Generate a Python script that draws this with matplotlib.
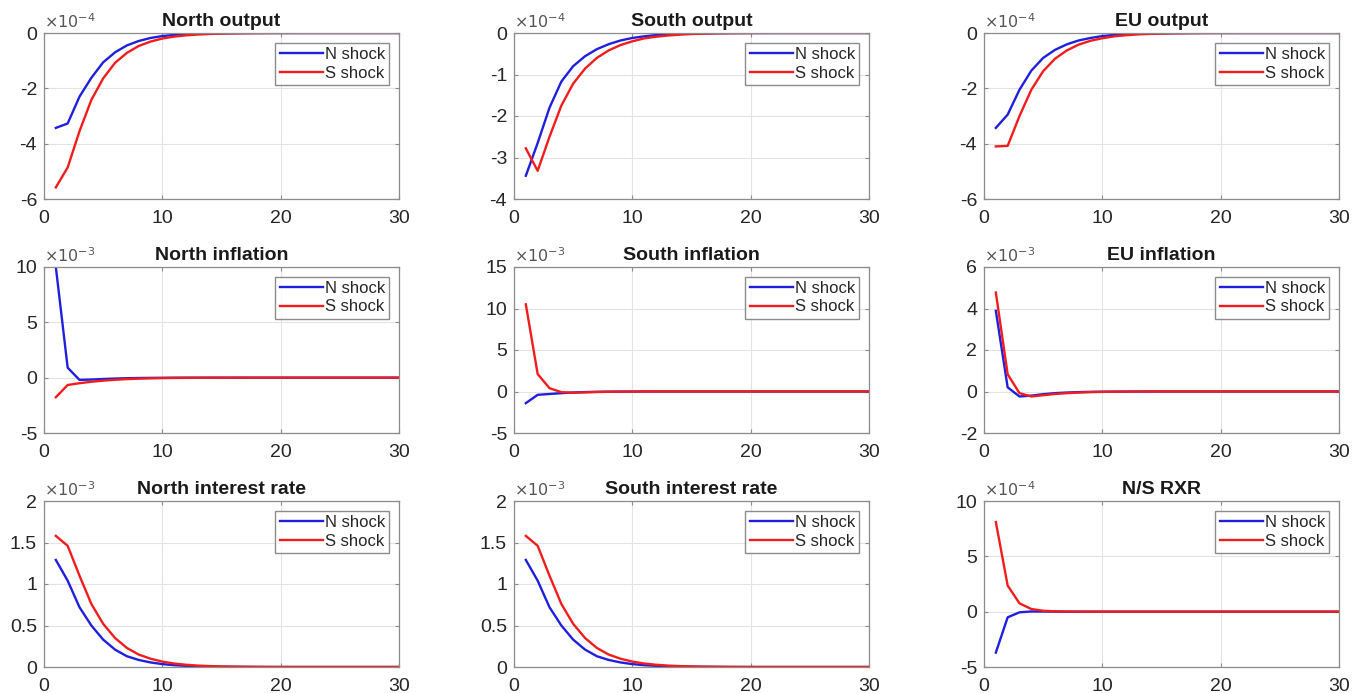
import numpy as np
import matplotlib
matplotlib.use("Agg")
import matplotlib.pyplot as plt
from matplotlib.ticker import FuncFormatter

plt.rcParams['font.family'] = ['Liberation Sans', 'DejaVu Sans']
plt.rcParams['axes.unicode_minus'] = False

# horizon (quarters)
periods = list(range(1, 31))

# ---- values (in units of the axis exponent) ----
north_out_N = [-3.43, -3.27, -2.30, -1.62, -1.06, -0.70, -0.45, -0.29, -0.18, -0.11,
               -0.07, -0.04, -0.025, -0.015, -0.01, -0.006, -0.004, -0.002, -0.001, 0,
               0, 0, 0, 0, 0, 0, 0, 0, 0, 0]
north_out_S = [-5.58, -4.86, -3.55, -2.42, -1.64, -1.08, -0.72, -0.47, -0.31, -0.20,
               -0.13, -0.085, -0.055, -0.035, -0.022, -0.014, -0.009, -0.006, -0.004, -0.002,
               -0.001, 0, 0, 0, 0, 0, 0, 0, 0, 0]

south_out_N = [-3.44, -2.65, -1.80, -1.17, -0.80, -0.56, -0.39, -0.27, -0.18, -0.12,
               -0.08, -0.05, -0.03, -0.02, -0.012, -0.008, -0.005, -0.003, -0.002, -0.001,
               0, 0, 0, 0, 0, 0, 0, 0, 0, 0]
south_out_S = [-2.78, -3.32, -2.50, -1.75, -1.22, -0.86, -0.60, -0.42, -0.29, -0.20,
               -0.13, -0.09, -0.06, -0.04, -0.025, -0.016, -0.01, -0.006, -0.004, -0.002,
               -0.001, 0, 0, 0, 0, 0, 0, 0, 0, 0]

eu_out_N = [-3.43, -2.95, -2.05, -1.36, -0.90, -0.61, -0.41, -0.27, -0.18, -0.11,
            -0.07, -0.045, -0.03, -0.018, -0.011, -0.007, -0.004, -0.002, -0.001, 0,
            0, 0, 0, 0, 0, 0, 0, 0, 0, 0]
eu_out_S = [-4.10, -4.08, -3.00, -2.05, -1.38, -0.93, -0.63, -0.42, -0.28, -0.19,
            -0.12, -0.08, -0.05, -0.033, -0.021, -0.013, -0.008, -0.005, -0.003, -0.002,
            -0.001, 0, 0, 0, 0, 0, 0, 0, 0, 0]

north_inf_N = [10.0, 0.90, -0.20, -0.17, -0.12, -0.08, -0.05, -0.03, -0.02, -0.012,
               -0.007, -0.004, -0.002, -0.001, 0, 0, 0, 0, 0, 0,
               0, 0, 0, 0, 0, 0, 0, 0, 0, 0]
north_inf_S = [-1.77, -0.66, -0.50, -0.37, -0.27, -0.19, -0.13, -0.09, -0.06, -0.04,
               -0.025, -0.016, -0.01, -0.006, -0.004, -0.002, -0.001, 0, 0, 0,
               0, 0, 0, 0, 0, 0, 0, 0, 0, 0]

south_inf_N = [-1.40, -0.40, -0.30, -0.20, -0.12, -0.07, -0.04, -0.02, -0.01, -0.005,
               0, 0, 0, 0, 0, 0, 0, 0, 0, 0,
               0, 0, 0, 0, 0, 0, 0, 0, 0, 0]
south_inf_S = [10.5, 2.10, 0.40, -0.08, -0.15, -0.10, -0.06, -0.035, -0.02, -0.01,
               -0.005, 0, 0, 0, 0, 0, 0, 0, 0, 0,
               0, 0, 0, 0, 0, 0, 0, 0, 0, 0]

eu_inf_N = [3.89, 0.20, -0.24, -0.20, -0.13, -0.08, -0.05, -0.03, -0.018, -0.01,
            -0.006, -0.003, -0.001, 0, 0, 0, 0, 0, 0, 0,
            0, 0, 0, 0, 0, 0, 0, 0, 0, 0]
eu_inf_S = [4.77, 0.83, -0.08, -0.24, -0.18, -0.12, -0.08, -0.05, -0.03, -0.018,
            -0.01, -0.006, -0.003, -0.001, 0, 0, 0, 0, 0, 0,
            0, 0, 0, 0, 0, 0, 0, 0, 0, 0]

north_int_N = [1.29, 1.04, 0.72, 0.50, 0.33, 0.21, 0.13, 0.085, 0.055, 0.035,
               0.022, 0.014, 0.009, 0.005, 0.003, 0.002, 0.001, 0, 0, 0,
               0, 0, 0, 0, 0, 0, 0, 0, 0, 0]
north_int_S = [1.58, 1.46, 1.10, 0.76, 0.52, 0.35, 0.23, 0.15, 0.10, 0.065,
               0.042, 0.027, 0.017, 0.011, 0.007, 0.004, 0.003, 0.002, 0.001, 0,
               0, 0, 0, 0, 0, 0, 0, 0, 0, 0]

south_int_N = [1.29, 1.04, 0.72, 0.50, 0.33, 0.21, 0.13, 0.085, 0.055, 0.035,
               0.022, 0.014, 0.009, 0.005, 0.003, 0.002, 0.001, 0, 0, 0,
               0, 0, 0, 0, 0, 0, 0, 0, 0, 0]
south_int_S = [1.58, 1.46, 1.10, 0.76, 0.52, 0.35, 0.23, 0.15, 0.10, 0.065,
               0.042, 0.027, 0.017, 0.011, 0.007, 0.004, 0.003, 0.002, 0.001, 0,
               0, 0, 0, 0, 0, 0, 0, 0, 0, 0]

rxr_N = [-3.70, -0.51, -0.06, 0.02, 0.01, 0.005, 0, 0, 0, 0,
         0, 0, 0, 0, 0, 0, 0, 0, 0, 0,
         0, 0, 0, 0, 0, 0, 0, 0, 0, 0]
rxr_S = [8.10, 2.36, 0.75, 0.24, 0.08, 0.03, 0.01, 0.004, 0, 0,
         0, 0, 0, 0, 0, 0, 0, 0, 0, 0,
         0, 0, 0, 0, 0, 0, 0, 0, 0, 0]

titles = ["North output", "South output", "EU output",
          "North inflation", "South inflation", "EU inflation",
          "North interest rate", "South interest rate", "N/S RXR"]
series_N = [north_out_N, south_out_N, eu_out_N,
            north_inf_N, south_inf_N, eu_inf_N,
            north_int_N, south_int_N, rxr_N]
series_S = [north_out_S, south_out_S, eu_out_S,
            north_inf_S, south_inf_S, eu_inf_S,
            north_int_S, south_int_S, rxr_S]
exponents = [-4, -4, -4, -3, -3, -3, -3, -3, -4]
y_ticks = [[-6, -4, -2, 0], [-4, -3, -2, -1, 0], [-6, -4, -2, 0],
           [-5, 0, 5, 10], [-5, 0, 5, 10, 15], [-2, 0, 2, 4, 6],
           [0, 0.5, 1, 1.5, 2], [0, 0.5, 1, 1.5, 2], [-5, 0, 5, 10]]
x_ticks = [0, 10, 20, 30]

BLUE = '#1f1fdd'
RED = '#f21c1c'
AX_GRAY = '#8c8c8c'
TXT = '#262626'

fig = plt.figure(figsize=(13.53, 6.93), dpi=100)
fig.patch.set_facecolor('white')

col_left = [44, 514, 984]
row_top = [33, 267, 501]
W, H = 355, 166

fmt = FuncFormatter(lambda v, p: f"{v:g}")

for i in range(9):
    r, c = divmod(i, 3)
    ax = fig.add_axes([col_left[c] / 1353, 1 - (row_top[r] + H) / 693, W / 1353, H / 693])
    ax.plot(periods, series_N[i], color=BLUE, lw=1.7, label='N shock')
    ax.plot(periods, series_S[i], color=RED, lw=1.7, label='S shock')
    ax.set_xlim(0, 30)
    ax.set_ylim(y_ticks[i][0], y_ticks[i][-1])
    ax.set_xticks(x_ticks)
    ax.set_yticks(y_ticks[i])
    ax.yaxis.set_major_formatter(fmt)
    ax.grid(True, color='#e3e3e3', lw=0.8)
    ax.set_axisbelow(True)
    ax.tick_params(direction='in', length=3, width=0.8, color=AX_GRAY,
                   labelsize=14, labelcolor=TXT, top=True, right=True)
    ax.tick_params(axis='x', pad=8)
    ax.tick_params(axis='y', pad=5)
    for s in ax.spines.values():
        s.set_color(AX_GRAY)
        s.set_linewidth(0.9)
    ax.set_title(titles[i], fontsize=14, fontweight='bold', color='#1a1a1a', pad=5)
    ax.text(0.0, 1.01, r"$\times10^{%d}$" % exponents[i], transform=ax.transAxes,
            ha='left', va='bottom', fontsize=11.5, color='#555555')
    leg = ax.legend(loc='upper right', fontsize=12, frameon=True, fancybox=False,
                    handlelength=2.6, handletextpad=0.1, borderpad=0.25,
                    labelspacing=0.2, borderaxespad=0.6)
    leg.get_frame().set_edgecolor('#707070')
    leg.get_frame().set_linewidth(1.0)
    for t in leg.get_texts():
        t.set_color(TXT)

fig.savefig("out.png", dpi=100)
